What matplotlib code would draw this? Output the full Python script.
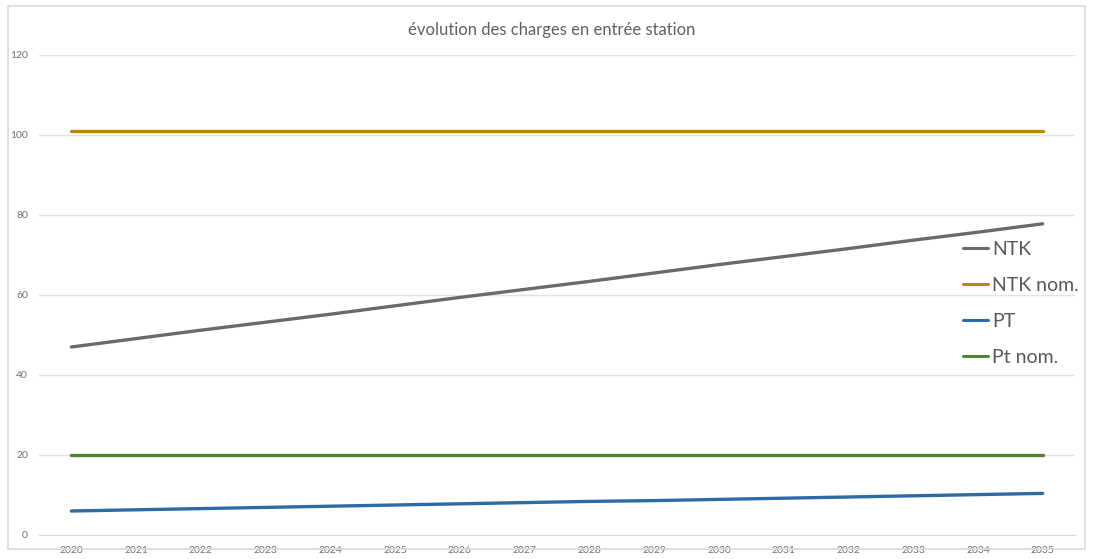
import matplotlib
matplotlib.use("Agg")
import matplotlib.pyplot as plt
from matplotlib.patches import Rectangle

years = [str(y) for y in range(2020, 2036)]
ntk = [47.0, 49.1, 51.2, 53.2, 55.2, 57.3, 59.4, 61.4, 63.4, 65.5, 67.6, 69.6, 71.6, 73.7, 75.7, 77.8]
ntk_nom = [101] * 16
pt = [6.0, 6.3, 6.6, 6.9, 7.2, 7.5, 7.8, 8.1, 8.4, 8.6, 8.9, 9.2, 9.5, 9.8, 10.1, 10.4]
pt_nom = [20] * 16
labels = ["NTK", "NTK nom.", "PT", "Pt nom."]
colors = ["#6a6a6a", "#b8860b", "#2e6aa3", "#548235"]

plt.rcParams['font.family'] = ['Lato', 'DejaVu Sans']
fig = plt.figure(figsize=(10.95, 5.59), dpi=100)
fig.patches.append(Rectangle((8/1095, 1-549/559), (1085-8)/1095, (549-6)/559,
                             transform=fig.transFigure, fill=False, edgecolor="#d9d9d9", lw=1.2))
ax = fig.add_axes([39/1095, 1-535/559, (1075-39)/1095, 480/559])
x = list(range(len(years)))
for vals, lab, c in zip([ntk, ntk_nom, pt, pt_nom], labels, colors):
    ax.plot(x, vals, color=c, lw=2.4, label=lab, solid_capstyle='round')
ax.set_xlim(-0.5, 15.5)
ax.set_ylim(0, 120)
ax.set_yticks(range(0, 121, 20))
ax.set_xticks(x)
ax.set_xticklabels(years)
ax.yaxis.grid(True, color="#e3e3e3", lw=1)
ax.set_axisbelow(True)
for s in ["top", "right", "left"]:
    ax.spines[s].set_visible(False)
ax.spines["bottom"].set_color("#d9d9d9")
ax.tick_params(axis="both", length=0, labelsize=7.5, labelcolor="#707070")
ax.tick_params(axis="x", pad=8)
ax.tick_params(axis="y", pad=8)
fig.text(552/1095, 1-30/559, "évolution des charges en entrée station", ha="center", va="center",
         fontsize=12, color="#606060")
leg = ax.legend(loc="upper left", bbox_to_anchor=(963/1095, 1-241/559), bbox_transform=fig.transFigure,
                frameon=False, fontsize=14, handlelength=1.3, handletextpad=0.2, labelspacing=0.97,
                borderaxespad=0, borderpad=0)
for t in leg.get_texts():
    t.set_color("#595959")
for h in leg.get_lines():
    h.set_linewidth(2.2)
fig.savefig("out.png", dpi=100)
